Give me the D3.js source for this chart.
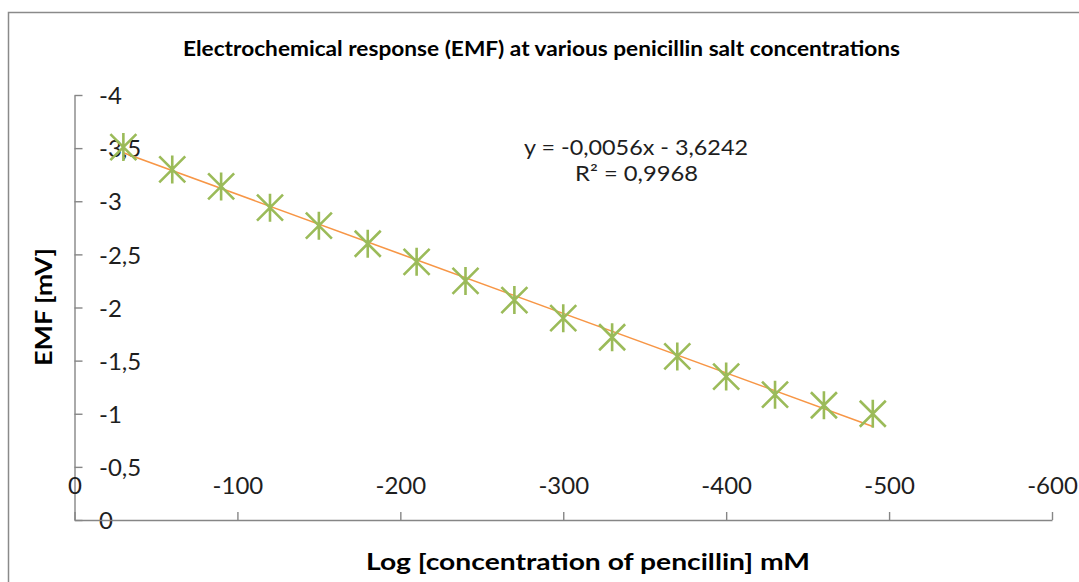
<!DOCTYPE html>
<html>
<head>
<meta charset="utf-8">
<script src="https://cdn.jsdelivr.net/npm/d3@7"></script>
<style>
  html, body { margin: 0; padding: 0; background: #fff; }
  svg { display: block; }
  text { font-family: Lato, "Open Sans", sans-serif; }
</style>
</head>
<body>
<svg id="chart" width="1079" height="582"></svg>
<script>
// ---- data ----
const concentrations = [-30, -60, -90, -120, -150, -180, -210, -240, -270, -300, -330, -370, -400, -430, -460, -490];
const emfValues = [-3.51, -3.30, -3.14, -2.94, -2.77, -2.60, -2.43, -2.25, -2.07, -1.90, -1.72, -1.54, -1.35, -1.18, -1.08, -1.00];
const xTickValues = [0, -100, -200, -300, -400, -500, -600];
const yTickValues = [0, -0.5, -1, -1.5, -2, -2.5, -3, -3.5, -4];
const trendSlope = [-0.0056];
const trendIntercept = [-3.6242];
const equationLines = ["y = -0,0056x - 3,6242", "R\u00B2 = 0,9968"];
const chartTitle = "Electrochemical response (EMF) at various penicillin salt concentrations";
const xTitle = "Log [concentration of pencillin] mM";
const yTitle = "EMF [mV]";

// ---- layout ----
const svg = d3.select("#chart");
const x = d3.scaleLinear().domain([0, -600]).range([74.5, 1052]);
const y = d3.scaleLinear().domain([0, -4]).range([520, 95]);
const fmt = d => String(d).replace(".", ",");

// outer chart border
svg.append("rect").attr("x", 8.5).attr("y", 12.5).attr("width", 1100).attr("height", 600)
  .attr("fill", "none").attr("stroke", "#8a8a8a").attr("stroke-width", 1.5);

// title
svg.append("text").attr("x", 183).attr("y", 56).attr("font-size", 20).attr("font-weight", "bold")
  .attr("fill", "#000").attr("textLength", 717).attr("lengthAdjust", "spacingAndGlyphs").text(chartTitle);

// y axis (ticks pointing into plot, labels left-aligned)
const yAxis = svg.append("g").attr("transform", `translate(${x(0)},0)`)
  .call(d3.axisRight(y).tickValues(yTickValues).tickSize(8).tickSizeOuter(0).tickPadding(16.5).tickFormat(fmt));
// x axis (ticks pointing up, labels above)
const xAxis = svg.append("g").attr("transform", `translate(0,${y(0)})`)
  .call(d3.axisTop(x).tickValues(xTickValues).tickSize(8).tickSizeOuter(0).tickPadding(18).tickFormat(fmt));

[xAxis, yAxis].forEach(g => {
  g.select(".domain").attr("stroke", "#868686").attr("stroke-width", 1.4);
  g.selectAll(".tick line").attr("stroke", "#868686").attr("stroke-width", 1.4);
  g.selectAll(".tick text").attr("fill", "#1e1e1e").attr("font-size", 24)
    .style("font-family", "Lato, 'Open Sans', sans-serif");
});
yAxis.selectAll(".tick text").attr("dy", "0.36em");

// trend line (linear, from equation, over data range)
const xExt = d3.extent(concentrations);
const trendPts = [xExt[1], xExt[0]].map(v => [v, trendSlope[0] * v + trendIntercept[0]]);
svg.append("path")
  .attr("d", d3.line().x(d => x(d[0])).y(d => y(d[1]))(trendPts))
  .attr("fill", "none").attr("stroke", "#F79646").attr("stroke-width", 1.6);

// star markers
const starPath = "M-13,-13L13,13M-13,13L13,-13M0,-14L0,14";
svg.append("g").selectAll("path").data(concentrations).join("path")
  .attr("transform", (d, i) => `translate(${x(d)},${y(emfValues[i])})`)
  .attr("d", starPath).attr("fill", "none").attr("stroke", "#9BBB59").attr("stroke-width", 2.6);

// equation text
svg.append("text").attr("x", 524).attr("y", 155)
  .attr("font-size", 21).attr("fill", "#1e1e1e")
  .attr("textLength", 224).attr("lengthAdjust", "spacingAndGlyphs").text(equationLines[0]);
svg.append("text").attr("x", 575).attr("y", 181)
  .attr("font-size", 21).attr("fill", "#1e1e1e")
  .attr("textLength", 123).attr("lengthAdjust", "spacingAndGlyphs").text(equationLines[1]);

// axis titles
svg.append("text").attr("x", 366).attr("y", 570).attr("font-size", 22).attr("font-weight", "bold")
  .attr("fill", "#000").attr("textLength", 444).attr("lengthAdjust", "spacingAndGlyphs").text(xTitle);
svg.append("text").attr("transform", "translate(52,366) rotate(-90)").attr("font-size", 23).attr("font-weight", "bold")
  .attr("fill", "#000").attr("textLength", 118).attr("lengthAdjust", "spacingAndGlyphs").text(yTitle);
</script>
</body>
</html>
